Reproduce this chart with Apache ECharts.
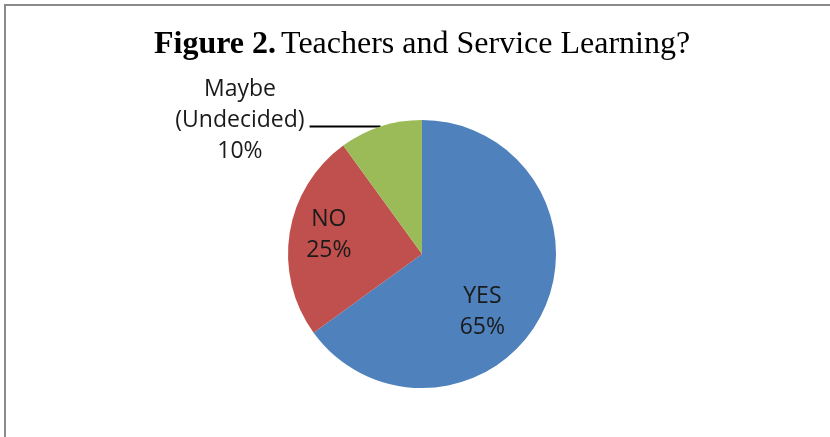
<!DOCTYPE html>
<html>
<head>
<meta charset="utf-8">
<script src="https://cdn.jsdelivr.net/npm/echarts@6/dist/echarts.min.js"></script>
<style>
html,body{margin:0;padding:0;background:#fff;}
#chart{width:830px;height:437px;}
</style>
</head>
<body>
<div id="chart"></div>
<script>
const categories = ['YES', 'NO', 'Maybe\n(Undecided)'];
const percents = [65, 25, 10];
const colors = ['#4F81BD', '#C0504D', '#9BBB59'];

const chart = echarts.init(document.getElementById('chart'));
const labelFont = 'Open Sans, Noto Sans, sans-serif';
const labelSize = 23;

const data = categories.map((c, i) => ({ name: c, value: percents[i] }));
data[0].label = { position: 'inside', offset: [-2, 26] };
data[1].label = { position: 'inside', offset: [-24, -8] };
data[2].label = {
  position: 'outside',
  formatter: function (p) {
    return p.name.split('\n').map(s => '{a|' + s + '}').join('\n') + '\n{a|' + p.value + '%}';
  },
  padding: [0, 0, 12, 0],
  rich: { a: { align: 'center', fontSize: labelSize, lineHeight: 31, color: '#1a1a1a', fontFamily: labelFont } }
};
data[2].labelLine = { show: true, length: 0, length2: 71, lineStyle: { color: '#000', width: 2 } };

chart.setOption({
  animation: false,
  backgroundColor: '#fff',
  color: colors,
  title: {
    text: '{b|Figure 2.} {r|Teachers and Service Learning?}',
    left: 149,
    top: 24,
    textStyle: {
      rich: {
        b: { fontFamily: 'Liberation Serif, serif', fontWeight: 'bold', fontSize: 32, color: '#000' },
        r: { fontFamily: 'Liberation Serif, serif', fontWeight: 'normal', fontSize: 32, color: '#000' }
      }
    }
  },
  graphic: [{
    type: 'rect',
    shape: { x: 5, y: 5, width: 900, height: 600 },
    style: { fill: null, stroke: '#8a8a8a', lineWidth: 2 },
    silent: true
  }],
  series: [{
    type: 'pie',
    center: [422, 254],
    radius: 134,
    startAngle: 90,
    clockwise: true,
    avoidLabelOverlap: false,
    label: {
      show: true,
      formatter: '{b}\n{c}%',
      fontFamily: labelFont,
      fontSize: labelSize,
      lineHeight: 31,
      color: '#1a1a1a'
    },
    labelLine: { show: false },
    itemStyle: { borderWidth: 0 },
    emphasis: { disabled: true },
    data: data
  }]
});
</script>
</body>
</html>
